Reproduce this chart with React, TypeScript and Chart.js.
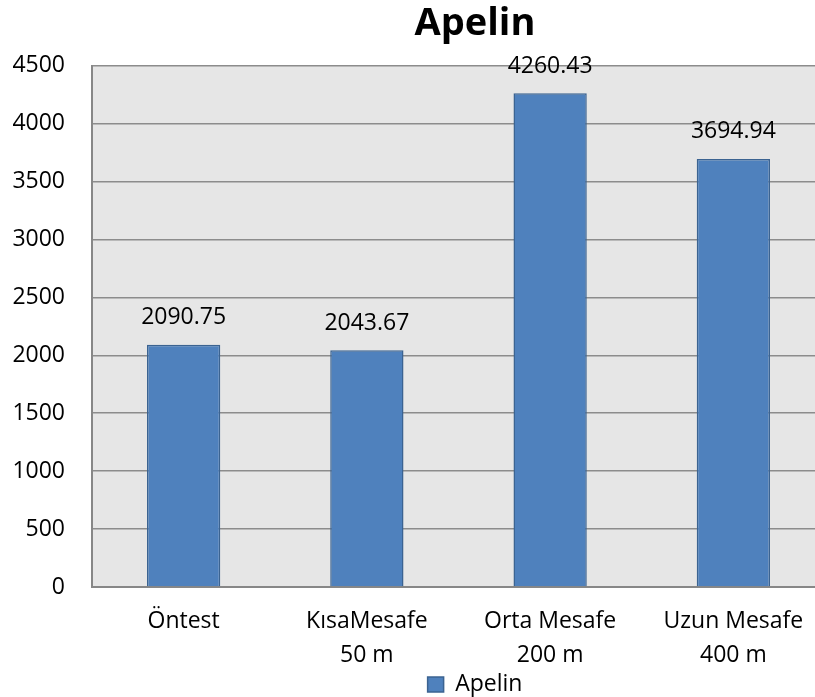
import React, { useEffect, useRef } from "react";
import { Chart, registerables } from "chart.js";

Chart.register(...registerables);

const categories: string[][] = [["Öntest"], ["KısaMesafe", "50 m"], ["Orta Mesafe", "200 m"], ["Uzun Mesafe", "400 m"]];
const apelinValues: number[] = [2090.75, 2043.67, 4260.43, 3694.94];
const yTickMin = 0;
const yTickMax = 4500;
const yTickStep = 500;
const seriesName = "Apelin";
const chartTitle = "Apelin";

const FONT = "'Open Sans', sans-serif";

const plotBackground = {
  id: "plotBackground",
  beforeDraw(chart: any) {
    const { ctx, chartArea } = chart;
    ctx.save();
    ctx.fillStyle = "#e6e6e6";
    ctx.fillRect(chartArea.left, chartArea.top, chartArea.right - chartArea.left, chartArea.bottom - chartArea.top);
    ctx.restore();
  },
};

const dataLabels = {
  id: "dataLabels",
  afterDatasetsDraw(chart: any) {
    const { ctx } = chart;
    const meta = chart.getDatasetMeta(0);
    const data = chart.data.datasets[0].data as number[];
    ctx.save();
    ctx.font = `23px ${FONT}`;
    ctx.fillStyle = "#000";
    ctx.textAlign = "center";
    ctx.textBaseline = "middle";
    meta.data.forEach((bar: any, i: number) => {
      ctx.fillText(data[i].toFixed(2), bar.x, bar.y - 27);
    });
    ctx.restore();
  },
};

export default function App() {
  const canvasRef = useRef<HTMLCanvasElement | null>(null);

  useEffect(() => {
    if (!canvasRef.current) return;
    const chart = new Chart(canvasRef.current, {
      type: "bar",
      data: {
        labels: categories,
        datasets: [
          {
            label: seriesName,
            data: apelinValues,
            backgroundColor: "#4f81bd",
            borderColor: "#3b6391",
            borderWidth: 1.5,
            barPercentage: 0.4,
            categoryPercentage: 1,
          },
        ],
      },
      options: {
        responsive: false,
        animation: false,
        devicePixelRatio: 1,
        layout: { padding: 0 },
        plugins: {
          title: {
            display: true,
            text: chartTitle,
            color: "#000",
            font: { family: FONT, size: 38, weight: "bold", lineHeight: 1.2 },
            padding: { top: 1, bottom: 19 },
          },
          legend: {
            display: true,
            position: "bottom",
            labels: {
              color: "#000",
              font: { family: FONT, size: 23 },
              boxWidth: 16,
              boxHeight: 15,
              padding: 0,
            },
          },
          tooltip: { enabled: false },
        },
        scales: {
          x: {
            grid: { display: false, drawTicks: false },
            border: { display: true, color: "#878787", width: 2 },
            ticks: {
              color: "#000",
              font: { family: FONT, size: 23, lineHeight: 1.48 },
              padding: 17,
              maxRotation: 0,
              autoSkip: false,
            },
            afterFit: (s: any) => {
              s.height = 86;
            },
          },
          y: {
            min: yTickMin,
            max: yTickMax,
            grid: { color: "#8c8c8c", lineWidth: 1.5, drawTicks: false },
            border: { display: true, color: "#878787", width: 2 },
            ticks: {
              stepSize: yTickStep,
              color: "#000",
              font: { family: FONT, size: 23 },
              padding: 27,
              callback: (v: any) => String(v),
            },
            afterFit: (s: any) => {
              s.width = 92;
            },
          },
          yRight: {
            type: "linear",
            position: "right",
            display: true,
            grid: { display: false, drawTicks: false },
            border: { display: false },
            ticks: { display: false },
            afterFit: (s: any) => {
              s.width = 125;
            },
          },
        },
      },
      plugins: [plotBackground, dataLabels],
    });
    return () => chart.destroy();
  }, []);

  return (
    <div style={{ position: "fixed", left: 0, top: 0, width: 815, height: 697, overflow: "hidden", background: "#fff" }}>
      <canvas ref={canvasRef} width={950} height={706} style={{ display: "block" }} />
    </div>
  );
}
